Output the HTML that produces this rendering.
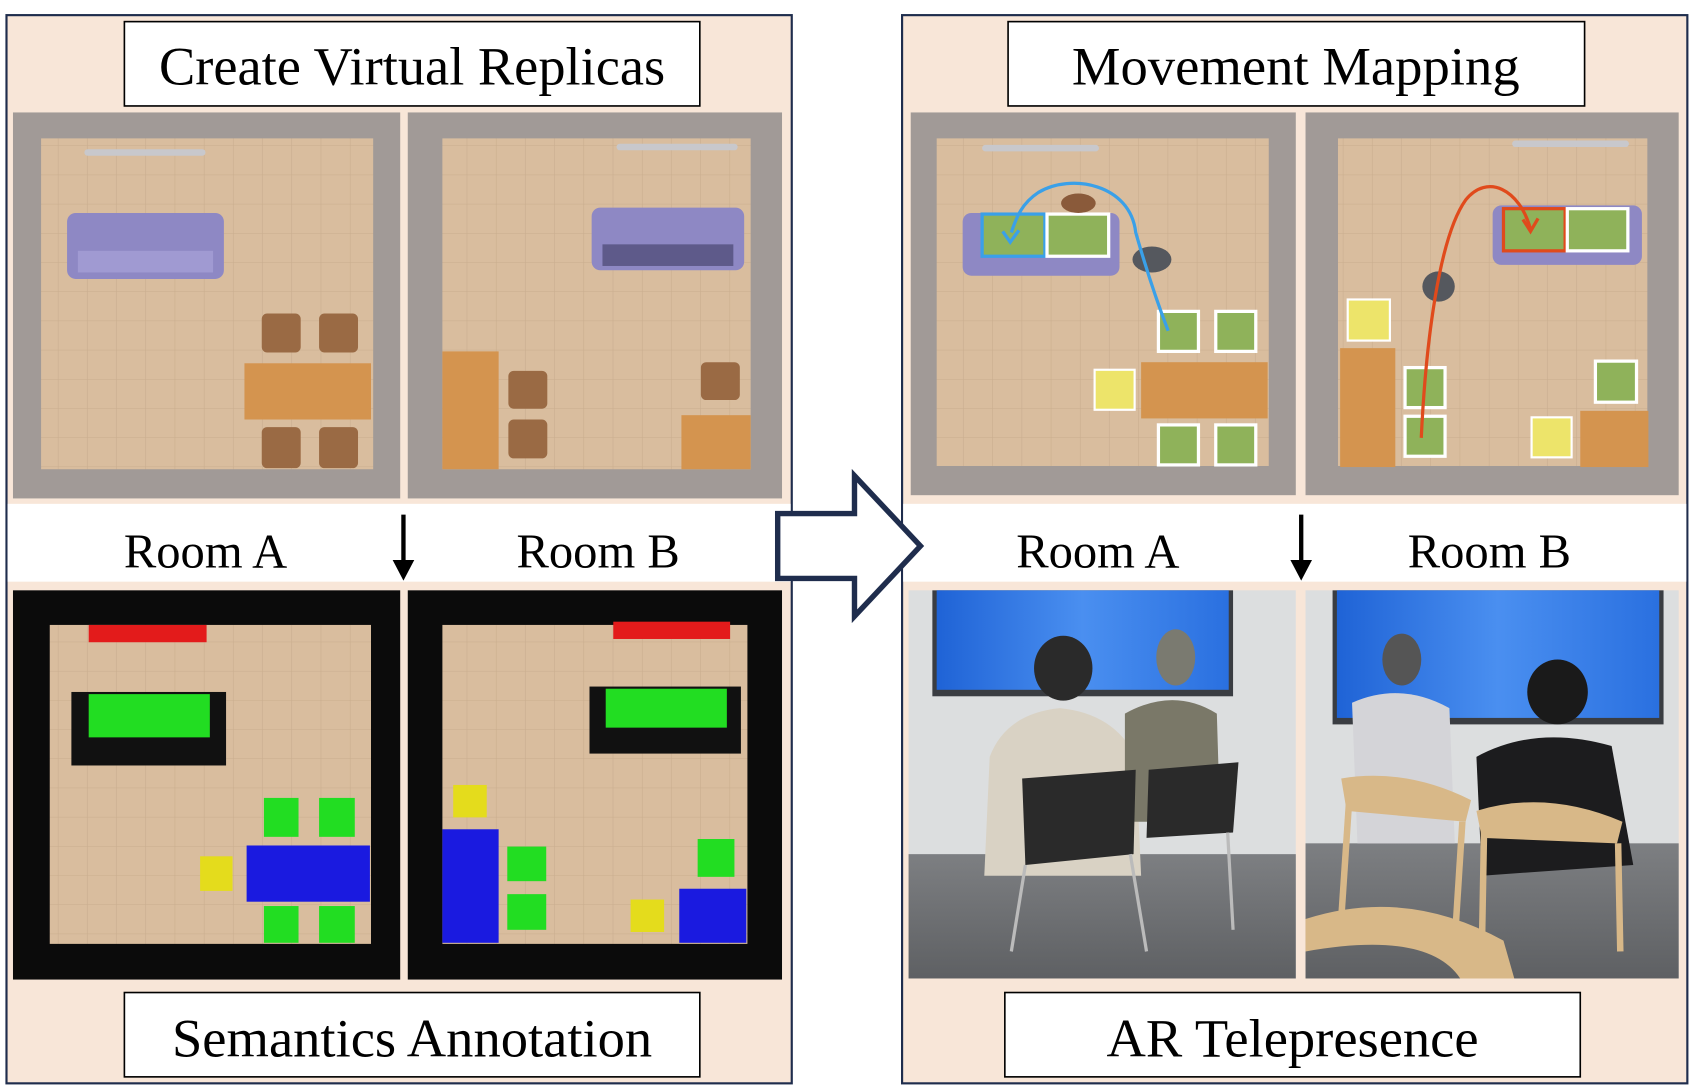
<!DOCTYPE html>
<html><head><meta charset="utf-8"><style>
html,body{margin:0;padding:0;background:#fff;width:1696px;height:1092px;overflow:hidden}
svg{display:block}
text{font-family:"Liberation Serif",serif;fill:#000}
</style></head><body>
<svg width="1696" height="1092" viewBox="0 0 1568 1010" preserveAspectRatio="none" xmlns="http://www.w3.org/2000/svg">
<defs>
<pattern id="grid" width="27" height="27" patternUnits="userSpaceOnUse">
<rect width="27" height="27" fill="#d9bd9e"/><path d="M27 0V27H0" fill="none" stroke="#c9ad8e" stroke-width="1"/>
</pattern>
<linearGradient id="scr" x1="0" x2="1" y1="0" y2="0"><stop offset="0" stop-color="#1f63d6"/><stop offset="0.5" stop-color="#4a8ff0"/><stop offset="1" stop-color="#2a70e0"/></linearGradient>
<linearGradient id="flr" x1="0" x2="0" y1="0" y2="1"><stop offset="0" stop-color="#7d7f82"/><stop offset="1" stop-color="#5e6063"/></linearGradient>
</defs>
<rect x="6" y="14" width="726" height="988" fill="#f8e6d8" stroke="#1f2d4d" stroke-width="2"/>
<rect x="834" y="14" width="726" height="988" fill="#f8e6d8" stroke="#1f2d4d" stroke-width="2"/>
<rect x="7" y="466" width="724" height="72" fill="#fff"/>
<rect x="835" y="466" width="724" height="72" fill="#fff"/>
<rect x="115" y="20" width="532" height="78" fill="#fff" stroke="#000" stroke-width="1.5"/>
<text x="381" y="78" font-size="50" text-anchor="middle" textLength="468" lengthAdjust="spacingAndGlyphs">Create Virtual Replicas</text>
<rect x="115" y="918" width="532" height="78" fill="#fff" stroke="#000" stroke-width="1.5"/>
<text x="381" y="977" font-size="50" text-anchor="middle" textLength="444" lengthAdjust="spacingAndGlyphs">Semantics Annotation</text>
<rect x="932" y="20" width="533" height="78" fill="#fff" stroke="#000" stroke-width="1.5"/>
<text x="1198" y="78" font-size="50" text-anchor="middle" textLength="414" lengthAdjust="spacingAndGlyphs">Movement Mapping</text>
<rect x="929" y="918" width="532" height="78" fill="#fff" stroke="#000" stroke-width="1.5"/>
<text x="1195" y="977" font-size="50" text-anchor="middle" textLength="344" lengthAdjust="spacingAndGlyphs">AR Telepresence</text>
<text x="190" y="525" font-size="45" text-anchor="middle" textLength="151" lengthAdjust="spacingAndGlyphs">Room A</text>
<text x="553" y="525" font-size="45" text-anchor="middle" textLength="151" lengthAdjust="spacingAndGlyphs">Room B</text>
<text x="1015" y="525" font-size="45" text-anchor="middle" textLength="151" lengthAdjust="spacingAndGlyphs">Room A</text>
<text x="1377" y="525" font-size="45" text-anchor="middle" textLength="151" lengthAdjust="spacingAndGlyphs">Room B</text>
<g stroke="#000" stroke-width="4"><line x1="373" y1="476" x2="373" y2="524"/><line x1="1203" y1="476" x2="1203" y2="524"/></g>
<path d="M363 518 L373 537 L383 518Z M1193 518 L1203 537 L1213 518Z"/>
<path d="M719 475 H790 V440 L851 505 L790 570 V535 H719 Z" fill="#fff" stroke="#1f2d4d" stroke-width="5" stroke-linejoin="miter"/>

<rect x="12" y="104" width="358" height="357" fill="#a19a97"/>
<rect x="38" y="128" width="307" height="306" fill="url(#grid)"/>
<rect x="78" y="138" width="112" height="6" rx="3" fill="#c8c8cc"/>
<rect x="62" y="197" width="145" height="61" rx="8" fill="#8e88c4"/><rect x="72" y="232" width="125" height="20" fill="#a09ad2"/>
<g fill="#9a6a44"><rect x="242" y="290" width="36" height="36" rx="5"/><rect x="295" y="290" width="36" height="36" rx="5"/><rect x="242" y="395" width="36" height="38" rx="5"/><rect x="295" y="395" width="36" height="38" rx="5"/></g>
<rect x="226" y="336" width="117" height="52" fill="#d4944f"/>
<rect x="377" y="104" width="346" height="357" fill="#a19a97"/>
<rect x="409" y="128" width="285" height="306" fill="url(#grid)"/>
<rect x="570" y="133" width="112" height="6" rx="3" fill="#c8c8cc"/>
<rect x="547" y="192" width="141" height="58" rx="8" fill="#8e88c4"/><rect x="557" y="226" width="121" height="20" fill="#5e5a8a"/>
<rect x="409" y="325" width="52" height="109" fill="#d4944f"/>
<g fill="#9a6a44"><rect x="470" y="343" width="36" height="35" rx="5"/><rect x="470" y="388" width="36" height="36" rx="5"/><rect x="648" y="335" width="36" height="35" rx="5"/></g>
<rect x="630" y="384" width="64" height="50" fill="#d4944f"/>

<rect x="12" y="546" width="358" height="360" fill="#0b0b0b"/>
<rect x="46" y="578" width="297" height="295" fill="url(#grid)"/>
<rect x="82" y="578" width="109" height="16" fill="#e31b1b"/>
<rect x="66" y="640" width="143" height="68" fill="#111"/><rect x="82" y="642" width="112" height="40" fill="#22dd22"/>
<g fill="#22dd22"><rect x="244" y="738" width="32" height="36"/><rect x="295" y="738" width="33" height="36"/><rect x="244" y="838" width="32" height="34"/><rect x="295" y="838" width="33" height="34"/></g>
<rect x="228" y="782" width="114" height="52" fill="#1a1ae0"/>
<rect x="185" y="792" width="30" height="32" fill="#e4dc1c"/>
<rect x="377" y="546" width="346" height="360" fill="#0b0b0b"/>
<rect x="409" y="578" width="282" height="295" fill="url(#grid)"/>
<rect x="567" y="575" width="108" height="16" fill="#e31b1b"/>
<rect x="545" y="635" width="140" height="62" fill="#111"/><rect x="560" y="637" width="112" height="36" fill="#22dd22"/>
<rect x="419" y="726" width="31" height="30" fill="#e4dc1c"/>
<rect x="409" y="767" width="52" height="105" fill="#1a1ae0"/>
<g fill="#22dd22"><rect x="469" y="783" width="36" height="32"/><rect x="469" y="827" width="36" height="33"/><rect x="645" y="776" width="34" height="35"/></g>
<rect x="583" y="832" width="31" height="30" fill="#e4dc1c"/>
<rect x="628" y="822" width="62" height="50" fill="#1a1ae0"/>

<rect x="842" y="104" width="356" height="354" fill="#a19a97"/>
<rect x="866" y="128" width="307" height="303" fill="url(#grid)"/>
<rect x="908" y="134" width="108" height="6" rx="3" fill="#c8c8cc"/>
<rect x="890" y="197" width="145" height="58" rx="8" fill="#8e88c4"/>
<rect x="908" y="198" width="58" height="39" fill="#8fb25a" stroke="#3aa0e8" stroke-width="3"/>
<rect x="968" y="198" width="57" height="39" fill="#8fb25a" stroke="#fff" stroke-width="3"/>
<ellipse cx="997" cy="188" rx="16" ry="9" fill="#8a5a3a"/>
<ellipse cx="1065" cy="240" rx="18" ry="12" fill="#55585e"/>
<rect x="1055" y="335" width="117" height="52" fill="#d4944f"/>
<g fill="#8fb25a" stroke="#fff" stroke-width="3"><rect x="1071" y="288" width="37" height="37"/><rect x="1124" y="288" width="37" height="37"/><rect x="1071" y="393" width="37" height="37"/><rect x="1124" y="393" width="37" height="37"/></g>
<rect x="1012" y="342" width="37" height="37" fill="#ede46a" stroke="#fff" stroke-width="2"/>
<path d="M1080 306 C1070 280 1060 250 1050 215 C1045 170 990 160 960 178 C945 188 940 200 935 215" fill="none" stroke="#3aa0e8" stroke-width="3"/>
<path d="M927 214 L934 224 L942 213" fill="none" stroke="#3aa0e8" stroke-width="3"/>
<rect x="1207" y="104" width="345" height="354" fill="#a19a97"/>
<rect x="1237" y="128" width="286" height="303" fill="url(#grid)"/>
<rect x="1398" y="130" width="108" height="6" rx="3" fill="#c8c8cc"/>
<rect x="1380" y="190" width="138" height="55" rx="8" fill="#8e88c4"/>
<rect x="1390" y="193" width="57" height="39" fill="#8fb25a" stroke="#e04a1c" stroke-width="3"/>
<rect x="1449" y="193" width="56" height="39" fill="#8fb25a" stroke="#fff" stroke-width="3"/>
<ellipse cx="1330" cy="265" rx="15" ry="14" fill="#55585e"/>
<rect x="1246" y="277" width="39" height="38" fill="#ede46a" stroke="#fff" stroke-width="2"/>
<rect x="1239" y="322" width="51" height="110" fill="#d4944f"/>
<g fill="#8fb25a" stroke="#fff" stroke-width="3"><rect x="1299" y="340" width="37" height="37"/><rect x="1299" y="385" width="37" height="37"/><rect x="1475" y="334" width="38" height="38"/></g>
<rect x="1416" y="386" width="37" height="37" fill="#ede46a" stroke="#fff" stroke-width="2"/>
<rect x="1461" y="380" width="63" height="52" fill="#d4944f"/>
<path d="M1314 405 C1318 320 1330 220 1355 185 C1375 160 1405 175 1415 212" fill="none" stroke="#e04a1c" stroke-width="3"/>
<path d="M1408 203 L1415 214 L1422 202" fill="none" stroke="#e04a1c" stroke-width="3"/>

<rect x="840" y="546" width="358" height="359" fill="#dcdedf"/>
<rect x="840" y="790" width="358" height="115" fill="url(#flr)"/>
<rect x="862" y="546" width="278" height="98" fill="#3a3d42"/>
<rect x="866" y="546" width="270" height="92" fill="url(#scr)"/>
<ellipse cx="983" cy="618" rx="27" ry="30" fill="#2a2a2a"/>
<path d="M915 700 Q930 660 980 655 Q1030 660 1050 700 L1055 810 L910 810Z" fill="#d9d2c4"/>
<ellipse cx="1087" cy="608" rx="18" ry="26" fill="#7a7a70"/>
<path d="M1040 660 Q1085 635 1125 660 L1128 760 L1040 760Z" fill="#7a7868"/>
<path d="M945 720 L1050 712 L1048 790 L948 800Z" fill="#2a2a2a"/>
<path d="M1062 712 L1145 705 L1140 770 L1060 775Z" fill="#2a2a2a"/>
<g stroke="#bbb" stroke-width="3"><line x1="948" y1="800" x2="935" y2="880"/><line x1="1045" y1="790" x2="1060" y2="880"/><line x1="1135" y1="770" x2="1140" y2="860"/></g>
<rect x="1207" y="546" width="345" height="359" fill="#dcdedf"/>
<rect x="1207" y="780" width="345" height="125" fill="url(#flr)"/>
<rect x="1232" y="546" width="306" height="124" fill="#3a3d42"/>
<rect x="1236" y="546" width="298" height="118" fill="url(#scr)"/>
<ellipse cx="1296" cy="610" rx="18" ry="24" fill="#555"/>
<path d="M1250 650 Q1295 630 1340 655 L1345 780 L1255 780Z" fill="#d4d4d8"/>
<ellipse cx="1440" cy="640" rx="28" ry="30" fill="#1a1a1a"/>
<path d="M1365 700 Q1420 670 1490 690 L1510 800 L1370 810Z" fill="#1c1c1e"/>
<path d="M1240 720 Q1300 710 1360 740 L1355 760 L1245 750Z" fill="#d8b888"/>
<path d="M1365 750 Q1430 730 1500 760 L1495 780 L1370 775Z" fill="#d8b888"/>
<g stroke="#d8b888" stroke-width="6"><line x1="1248" y1="730" x2="1240" y2="850"/><line x1="1352" y1="760" x2="1345" y2="870"/><line x1="1372" y1="770" x2="1370" y2="880"/><line x1="1496" y1="780" x2="1498" y2="880"/></g>
<path d="M1207 850 Q1300 820 1390 870 L1400 905 L1350 905 Q1320 860 1207 880Z" fill="#d8b888"/>
</svg>
</body></html>
